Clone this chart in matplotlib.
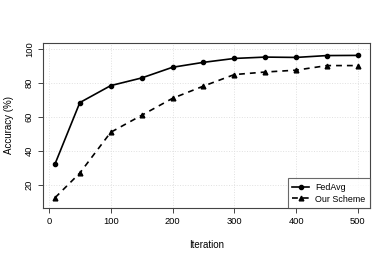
import matplotlib
matplotlib.use("Agg")
import matplotlib.pyplot as plt

iterations = [10, 50, 100, 150, 200, 250, 300, 350, 400, 450, 500]
fedavg = [32.5, 68.5, 78.5, 83.0, 89.3, 92.2, 94.5, 95.3, 95.1, 96.2, 96.3]
our_scheme = [12.5, 27.0, 51.0, 61.0, 71.0, 78.2, 85.0, 86.5, 87.6, 90.3, 90.3]
xticks = [0, 100, 200, 300, 400, 500]
yticks = [20, 40, 60, 80, 100]

plt.rcParams['font.family'] = ['Liberation Sans', 'DejaVu Sans']
fig = plt.figure(figsize=(3.92, 2.62), dpi=100)
ax = fig.add_axes([43/392, 1-208/262, (370-43)/392, (208-43)/262])

ax.plot(iterations, fedavg, '-', color='black', lw=1.2, marker='o', ms=3.0, label='FedAvg')
ax.plot(iterations, our_scheme, '--', color='black', lw=1.2, marker='^', ms=3.4,
        dashes=(3.5, 3), label='Our Scheme')

ax.set_xlim(-9.6, 519.6)
ax.set_ylim(6.4, 103.6)
ax.set_xticks(xticks)
ax.set_yticks(yticks)
ax.grid(True, color='#e0e0e0', linestyle=':', linewidth=0.7)
for s in ax.spines.values():
    s.set_linewidth(0.8)
    s.set_color('#444444')
ax.tick_params(axis='both', labelsize=6.7, length=3.5, width=0.7, color='#444444', pad=3)
for lab in ax.get_yticklabels():
    lab.set_rotation(90)
    lab.set_va('center')
ax.set_xlabel('Iteration', fontsize=7, labelpad=10)
ax.set_ylabel('Accuracy (%)', fontsize=7, labelpad=8)

leg = ax.legend(loc='lower right', fontsize=6.4, frameon=True, fancybox=False,
                borderaxespad=0, handlelength=1.9, borderpad=0.5, labelspacing=0.3,
                handletextpad=0.7)
leg.get_frame().set_edgecolor('#444444')
leg.get_frame().set_linewidth(0.8)

fig.savefig('out.png', dpi=100)
